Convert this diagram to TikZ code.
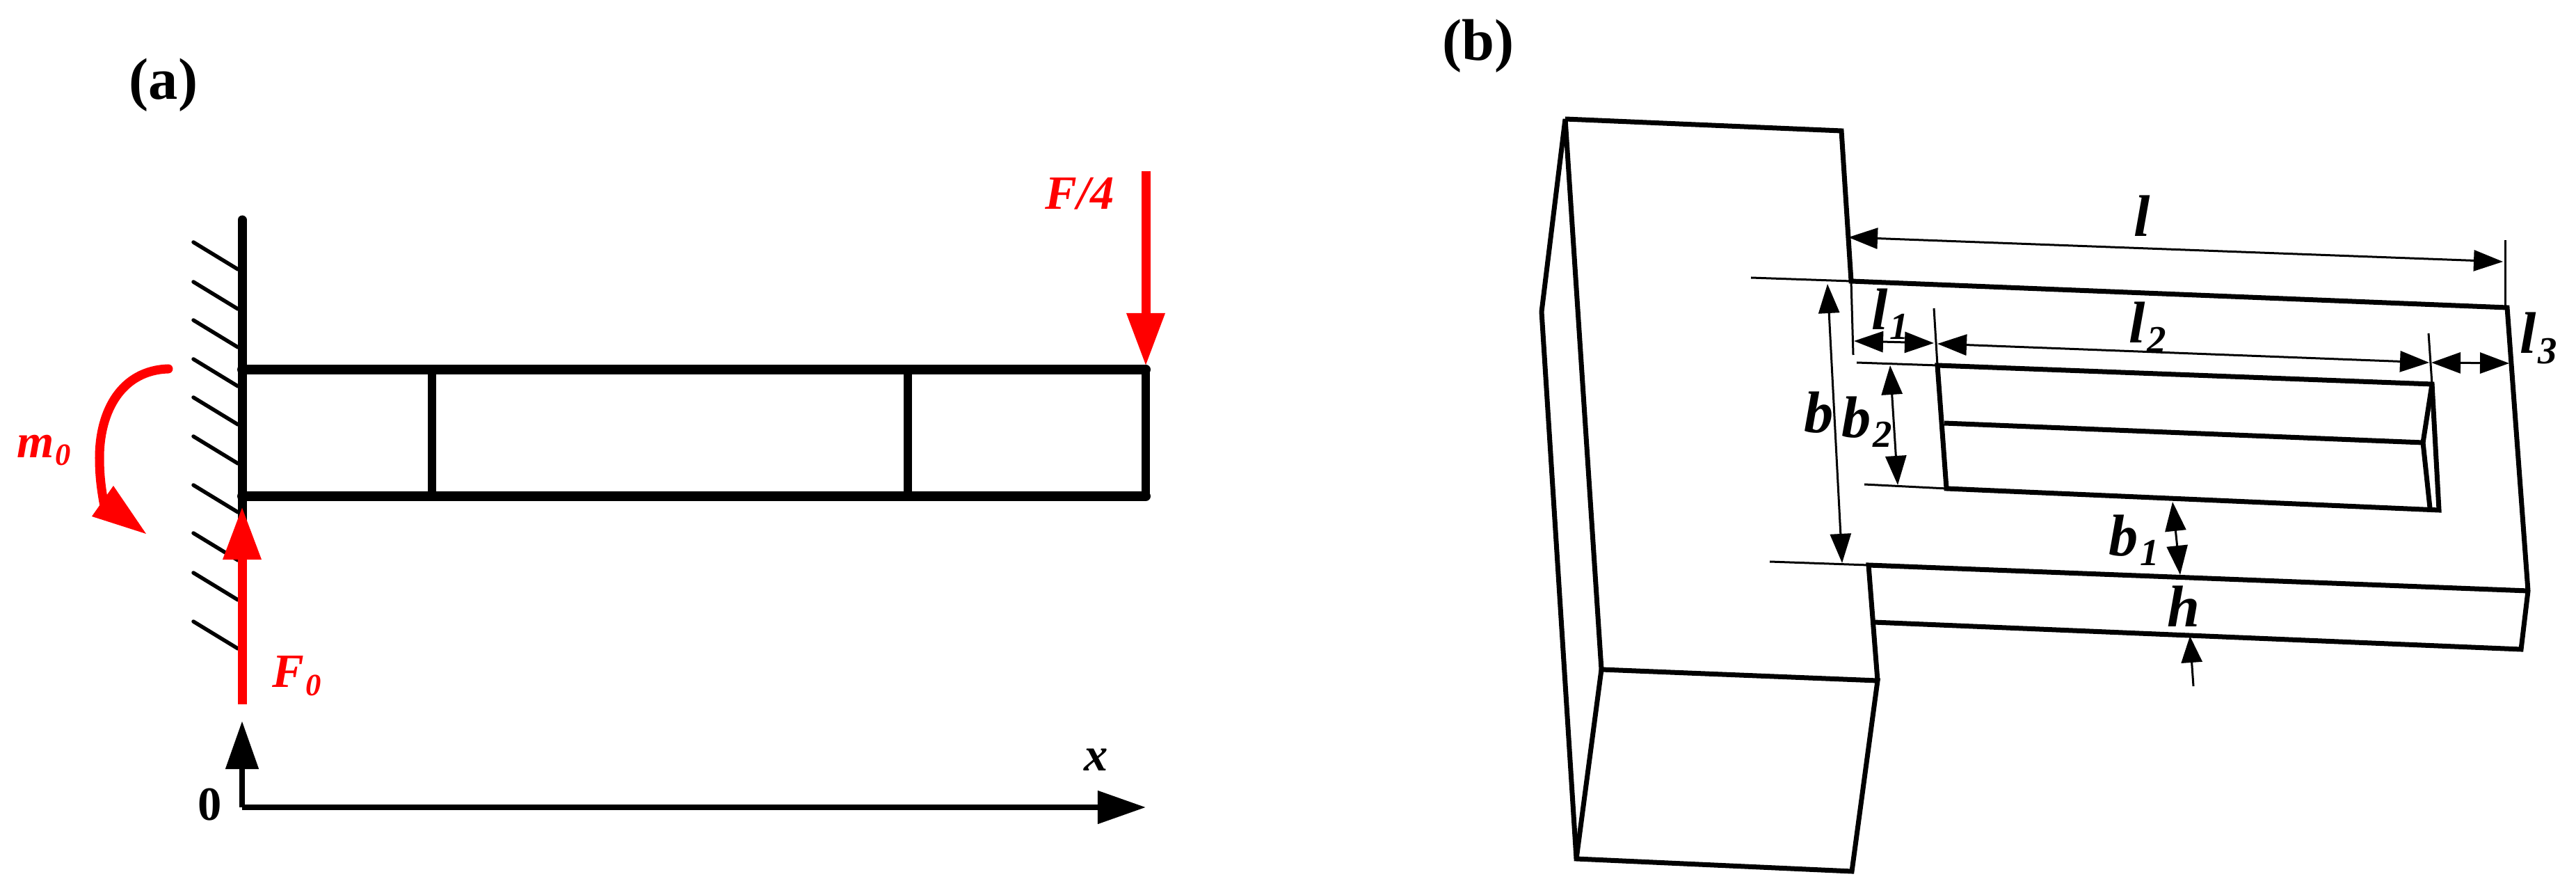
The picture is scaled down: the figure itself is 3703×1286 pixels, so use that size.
\documentclass[tikz,border=0pt]{standalone}
\usepackage{fontspec}
\setmainfont{Liberation Serif}
\usetikzlibrary{arrows.meta}
\newcommand{\lowidx}[2]{#1\kern.03em\raisebox{-.17em}{\scalebox{.65}{#2}}}
\tikzset{
  beamline/.style={line width=1.4mm,line cap=round},
  webline/.style={line width=1.2mm,line cap=round},
  hatchline/.style={line width=.55mm},
  loadarrow/.style={red,line width=1.3mm,-{Triangle[length=.76cm,width=.52cm]}},
  axisarrow/.style={line width=.8mm},
  edge3d/.style={line width=.7mm,line join=miter},
  dimline/.style={line width=.3mm},
  dimarrow/.style={line width=.3mm,{Triangle[length=.42cm,width=.3cm]}-{Triangle[length=.42cm,width=.3cm]}},
  panel/.style={font=\fontsize{24}{28}\selectfont\bfseries},
  loadlabel/.style={red,font=\fontsize{19.5}{22}\selectfont\bfseries\itshape},
  dimlabel/.style={font=\fontsize{24}{27}\selectfont\bfseries\itshape}
}
\begin{document}
\begin{tikzpicture}[x=0.01cm,y=-0.01cm]
\useasboundingbox (0,0) rectangle (3703,1286);
% panel a
\node[panel] (panela) at (235,122) {(a)};
\foreach \y in {348,405,460,516,571,627,697,766,823,893}
  \draw[hatchline,line cap=round] (278,\y) -- (342,\y+39);
\draw[webline,line width=1.3mm] (348,316) -- (348,932);
\draw[beamline] (348,531) -- (1647,531);
\draw[beamline] (348,713) -- (1647,713);
\foreach \x in {621,1305,1647}
  \draw[webline] (\x,531) -- (\x,713);
\draw[loadarrow] (1647,246) -- (1647,526);
\draw[loadarrow] (348,1012) -- (348,728);
\draw[red,line width=1.3mm,line cap=round] (242,530) .. controls (175,532) and (143,590) .. (143,658) .. controls (143,685) and (146,705) .. (150,727);
\fill[red] (132,742) -- (163,698) -- (210,767) -- cycle;
\draw[axisarrow,-{Triangle[length=.69cm,width=.46cm]}] (348,1160) -- (348,1036);
\draw[axisarrow,-{Triangle[length=.69cm,width=.46cm]}] (348,1160) -- (1647,1160);
\node[loadlabel] (forceend) at (1552,278) {F/4};
\node[loadlabel] (forcewall) at (427,971) {\lowidx{F}{0}};
\node[loadlabel] (momentwall) at (63,647) {\lowidx{m}{0}};
\node[font=\fontsize{19.5}{22}\selectfont\bfseries\itshape] (xlabel) at (1576,1092) {x};
\node[font=\fontsize{19.5}{22}\selectfont\bfseries] (origin) at (302,1156) {0};
% panel b
\node[panel] (panelb) at (2125,66) {(b)};
\draw[edge3d] (2250,171) -- (2647,188) -- (2661,404) -- (3604,442) -- (3634,849) -- (3624,933) -- (2693,894);
\draw[edge3d] (3634,849) -- (2686,812) -- (2699,978);
\draw[edge3d] (2250,171) -- (2302,962) -- (2699,978) -- (2662,1252) -- (2266,1234) -- (2216,448) -- cycle;
\draw[edge3d] (2302,962) -- (2266,1234);
% slot
\draw[edge3d] (2785,525) -- (3496,552) -- (3506,733) -- (2798,702) -- cycle;
\draw[edge3d] (2795,608) -- (3483,636) -- (3493,730);
\draw[edge3d] (3496,552) -- (3483,636);
% dimensions
\draw[dimline] (2517,399) -- (2661,404);
\draw[dimline] (2544,807) -- (2686,812);
\draw[dimline] (3601,345) -- (3601,442);
\draw[dimline] (2661,404) -- (2664,510);
\draw[dimline] (2780,443) -- (2785,525);
\draw[dimline] (3491,479) -- (3496,552);
\draw[dimline] (2669,521) -- (2785,525);
\draw[dimline] (2680,696) -- (2798,702);
\draw[dimarrow] (2657,341) -- (3598,376);
\draw[dimarrow] (2665,490) -- (2780,493);
\draw[dimarrow] (2785,494) -- (3492,521);
\draw[dimarrow] (3495,521) -- (3607,522);
\draw[dimarrow] (2627,408) -- (2648,809);
\draw[dimarrow] (2717,525) -- (2728,697);
\draw[dimarrow] (3123,721) -- (3134,826);
\draw[dimline,-{Triangle[length=.38cm,width=.3cm]}] (3153,986) -- (3148,914);
\node[dimlabel] (lenl) at (3079,310) {l};
\node[dimlabel] (lenone) at (2717,451) {\lowidx{l}{1}};
\node[dimlabel] (lentwo) at (3087,470) {\lowidx{l}{2}};
\node[dimlabel] (lenthree) at (3649,486) {\lowidx{l}{3}};
\node[dimlabel] (widb) at (2615,593) {b};
\node[dimlabel] (widtwo) at (2684,606) {\lowidx{b}{2}};
\node[dimlabel] (widone) at (3068,776) {\lowidx{b}{1}};
\node[dimlabel] (thick) at (3139,871) {h};
\end{tikzpicture}
\end{document}
